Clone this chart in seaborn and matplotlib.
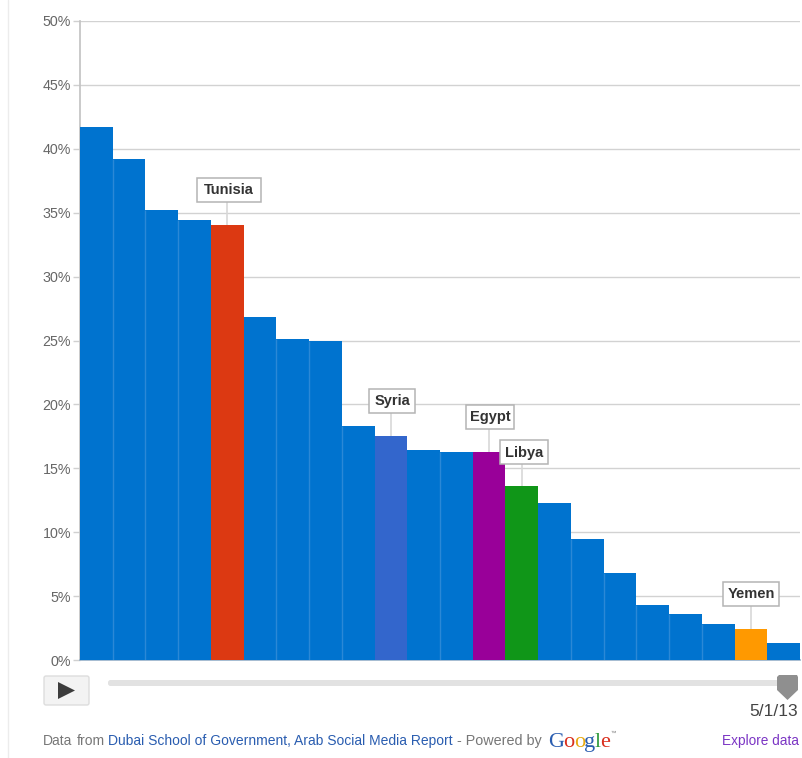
import matplotlib
matplotlib.use("Agg")
import matplotlib.pyplot as plt
from matplotlib.patches import FancyBboxPatch, Polygon, Rectangle
import seaborn as sns
import pandas as pd

sns.set_theme(style="white")
plt.rcParams['font.family'] = ['Liberation Sans', 'DejaVu Sans']

W, H = 803, 758
countries = ["Qatar", "UAE", "Bahrain", "Kuwait", "Tunisia", "Lebanon", "Saudi Arabia", "Jordan",
             "Oman", "Syria", "Morocco", "Palestine", "Egypt", "Libya", "Algeria", "Iraq",
             "Sudan", "Somalia", "Mauritania", "Djibouti", "Yemen", "Comoros"]
values = [41.7, 39.2, 35.2, 34.4, 34.0, 26.8, 25.1, 25.0, 18.3, 17.5, 16.4, 16.3,
          16.3, 13.6, 12.3, 9.5, 6.8, 4.3, 3.6, 2.8, 2.4, 1.3]
highlight_colors = {"Tunisia": "#dc3912", "Syria": "#3366cc", "Egypt": "#990099",
                    "Libya": "#109618", "Yemen": "#ff9900"}
base_color = "#0073cf"
yticks = [0, 5, 10, 15, 20, 25, 30, 35, 40, 45, 50]
ytick_labels = [f"{v}%" for v in yticks]
callouts = {"Tunisia": (229, 190), "Syria": (392, 401), "Egypt": (490.5, 417),
            "Libya": (524.5, 452), "Yemen": (751, 594)}

df = pd.DataFrame({"country": countries, "value": values})
palette = {c: highlight_colors.get(c, base_color) for c in countries}

fig = plt.figure(figsize=(W / 100, H / 100), dpi=100, facecolor="white")
L, R, T, B = 80, 800, 21, 660
ax = fig.add_axes([L / W, 1 - B / H, (R - L) / W, (B - T) / H])
sns.barplot(data=df, x="country", y="value", hue="country", palette=palette, dodge=False,
            legend=False, width=1.0, saturation=1, ax=ax, edgecolor="none", zorder=3)
ax.set_xlim(-0.5, len(countries) - 0.5)
ax.set_ylim(0, 50)
ax.set_xlabel("")
ax.set_ylabel("")
ax.set_xticks([])
ax.set_yticks(yticks)
ax.set_yticklabels(ytick_labels, fontsize=10.3, color="#666666")
ax.tick_params(axis="y", length=5, width=1, color="#d0d0d0", pad=1.4, left=True)
ax.grid(axis="y", color="#d2d2d2", linewidth=1, zorder=0)
ax.set_axisbelow(True)
for s in ["top", "right"]:
    ax.spines[s].set_visible(False)
ax.spines["left"].set_color("#c4c4c4")
ax.spines["bottom"].set_color("#9ab4cc")

# thin lighter separators between adjacent blue bars
for i in range(len(values) - 1):
    if countries[i] not in highlight_colors and countries[i + 1] not in highlight_colors:
        ax.plot([i + 0.5, i + 0.5], [0, min(values[i], values[i + 1])], color="#2b88d6",
                lw=1.0, zorder=4, solid_capstyle="butt")

# overlay in pixel coordinates for callouts and player controls
ov = fig.add_axes([0, 0, 1, 1], facecolor="none")
ov.set_xlim(0, W)
ov.set_ylim(H, 0)
ov.axis("off")

ax.figure.canvas.draw()
for name, (cx, cy) in callouts.items():
    i = countries.index(name)
    px, top_px = ax.transData.transform((i, values[i]))
    top_px = H - top_px
    ov.plot([px, px], [cy, top_px], color="#d8d8d8", lw=1.2, zorder=5, solid_capstyle="butt")
    halfw = {"Tunisia": 32, "Syria": 23, "Egypt": 24, "Libya": 24, "Yemen": 28}[name]
    ov.add_patch(Rectangle((cx - halfw, cy - 12), 2 * halfw, 24, fc="white", ec="#b4b4b4",
                           lw=1.1, zorder=6))
    ov.text(cx, cy + 0.5, name, ha="center", va="center", fontsize=10.5, fontweight="bold",
            color="#333333", zorder=7)

# faint page rule on the left
ov.plot([8.5, 8.5], [0, 758], color="#ececec", lw=1)

# play button
ov.add_patch(FancyBboxPatch((44, 676), 45, 29, boxstyle="round,pad=0,rounding_size=2",
                            fc="#f3f3f3", ec="#dddddd", lw=1))
ov.add_patch(Polygon([[58, 682], [58, 699], [75, 690.5]], closed=True, fc="#3c3c3c", ec="none"))

# slider
ov.add_patch(FancyBboxPatch((108, 680), 690, 6, boxstyle="round,pad=0,rounding_size=2.5",
                            fc="#e2e2e2", ec="none"))
ov.add_patch(Polygon([[777, 677], [779, 675], [797, 675], [798, 677], [798, 690], [787.5, 700], [777, 690]],
                     closed=True, fc="#8f8f8f", ec="none"))
ov.text(798, 711, "5/1/13", ha="right", va="center", fontsize=12.5, color="#444444")

# footer
y_f = 741
ov.text(43, y_f, "Data", ha="left", va="center", fontsize=10, color="#777777")
ov.text(77, y_f, "from", ha="left", va="center", fontsize=10, color="#777777")
ov.text(108, y_f, "Dubai School of Government, Arab Social Media Report", ha="left", va="center",
        fontsize=10, color="#2a5db0")
ov.text(457, y_f, "- Powered by", ha="left", va="center", fontsize=10.4, color="#777777")
logo = [("G", "#2a5db0", 548), ("o", "#d9301f", 563), ("o", "#e8a912", 574), ("g", "#2a5db0", 584),
        ("l", "#2f9a3c", 595), ("e", "#d9301f", 600)]
for ch, col, x in logo:
    ov.text(x, y_f - 1, ch, ha="left", va="center_baseline", fontsize=16, color=col,
            family="Liberation Serif")
ov.text(611, y_f - 8, "™", ha="left", va="center", fontsize=4, color="#777777")
ov.text(799, y_f, "Explore data", ha="right", va="center", fontsize=9.8, color="#7b35c4")

fig.savefig("out.png", dpi=100)
